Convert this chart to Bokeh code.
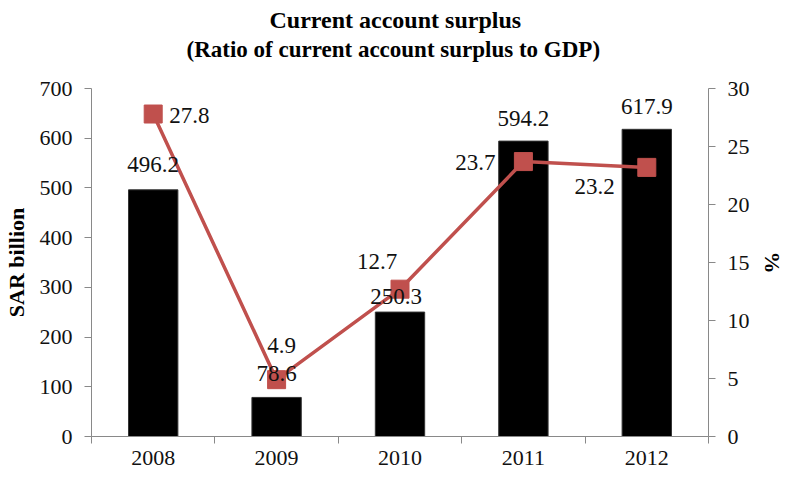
import math
from bokeh.plotting import figure
from bokeh.models import (ColumnDataSource, LinearAxis, Range1d, FixedTicker, Title)
from bokeh.embed import file_html
from bokeh.resources import INLINE

# ---- data ----
years = [2008, 2009, 2010, 2011, 2012]
year_labels = ["2008", "2009", "2010", "2011", "2012"]
surplus_sar_bn = [496.2, 78.6, 250.3, 594.2, 617.9]
surplus_pct_gdp = [27.8, 4.9, 12.7, 23.7, 23.2]
left_ticks = [0, 100, 200, 300, 400, 500, 600, 700]
right_ticks = [0, 5, 10, 15, 20, 25, 30]

# ---- styles ----
FONT = "Liberation Serif"
RED = "#C0504D"
AXIS_GREY = "#898989"
TICK_LBL = "22px"
DATA_LBL = "23px"

bar_lbl_dx = [0, 0, -4, 0, 0]
bar_lbl_dy = [-25, -24, -16, -23, -23]
pct_lbl_align = ["left", "center", "center", "right", "right"]
pct_lbl_dx = [16, 5, -23, -28, -32]
pct_lbl_dy = [1, -34, -28, 1, 19]

p = figure(width=787, height=477, output_backend="svg", toolbar_location=None,
           x_range=Range1d(2007.5, 2012.5), y_range=Range1d(0, 700),
           min_border_left=91, min_border_right=74, min_border_top=88,
           min_border_bottom=41)
p.extra_y_ranges = {"pct": Range1d(0, 30)}
p.outline_line_color = None
p.xgrid.visible = False
p.ygrid.visible = False
p.background_fill_color = "white"
p.border_fill_color = "white"

bars = ColumnDataSource(dict(x=years, top=surplus_sar_bn,
                             lbl=[f"{v:.1f}" for v in surplus_sar_bn],
                             dx=bar_lbl_dx, dy=bar_lbl_dy))
pct = ColumnDataSource(dict(x=years, y=surplus_pct_gdp,
                            lbl=[f"{v:.1f}" for v in surplus_pct_gdp],
                            dx=pct_lbl_dx, dy=pct_lbl_dy, al=pct_lbl_align))

p.vbar(x="x", top="top", width=0.4, source=bars, fill_color="black", line_color="#333333", line_width=1)
p.line(x="x", y="y", source=pct, y_range_name="pct", line_color=RED, line_width=3.5)
p.scatter(x="x", y="y", source=pct, y_range_name="pct", marker="square", size=18,
          fill_color=RED, line_color=RED)

p.text(x="x", y="top", text="lbl", source=bars, x_offset="dx", y_offset="dy",
       text_align="center", text_baseline="middle", text_font="Liberation Serif",
       text_font_size=DATA_LBL, text_color="#111111")
p.text(x="x", y="y", text="lbl", source=pct, y_range_name="pct", x_offset="dx", y_offset="dy",
       text_align="al", text_baseline="middle", text_font="Liberation Serif",
       text_font_size=DATA_LBL, text_color="#111111")

# axes
def style_axis(ax):
    ax.axis_line_color = AXIS_GREY
    ax.major_tick_line_color = AXIS_GREY
    ax.minor_tick_line_color = AXIS_GREY
    ax.major_label_text_font = FONT
    ax.major_label_text_font_size = TICK_LBL
    ax.major_label_text_color = "#111111"
    ax.major_tick_in = 0
    ax.major_tick_out = 7
    ax.minor_tick_in = 0
    ax.axis_label_text_font = FONT
    ax.axis_label_text_font_style = "bold"
    ax.axis_label_text_font_size = "22px"
    ax.axis_label_text_color = "#000000"

xa = p.xaxis[0]
xa.ticker = FixedTicker(ticks=years, minor_ticks=[2007.5, 2008.5, 2009.5, 2010.5, 2011.5, 2012.5])
xa.major_label_overrides = {y: s for y, s in zip(years, year_labels)}
style_axis(xa)
xa.major_tick_line_color = None
xa.minor_tick_out = 7
xa.major_label_standoff = 7

ya = p.yaxis[0]
ya.ticker = FixedTicker(ticks=left_ticks)
style_axis(ya)
ya.major_label_standoff = 12
ya.minor_tick_line_color = None
ya.axis_label = "SAR billion"
ya.axis_label_standoff = 8

ra = LinearAxis(y_range_name="pct", ticker=FixedTicker(ticks=right_ticks))
style_axis(ra)
ra.major_label_standoff = 12
ra.minor_tick_line_color = None
ra.axis_label = "%"
ra.axis_label_standoff = 7
p.add_layout(ra, "right")

# invisible spacer between plot area and titles
spacer = LinearAxis(ticker=FixedTicker(ticks=[2010], minor_ticks=[]),
                    major_tick_out=27, major_tick_in=0,
                    minor_tick_out=0, minor_tick_in=0,
                    axis_line_color=None, major_tick_line_color=None,
                    minor_tick_line_color=None, major_label_standoff=0,
                    major_label_overrides={2010: ""},
                    major_label_text_font_size="1px")
p.add_layout(spacer, "above")

# titles
p.add_layout(Title(text="(Ratio of current  account surplus  to GDP)", text_font=FONT,
                   text_font_style="bold", text_font_size="23px", align="left",
                   offset=95, standoff=0, text_color="#000000"), "above")
p.add_layout(Title(text="Current account surplus", text_font=FONT,
                   text_font_style="bold", text_font_size="24px", align="left",
                   offset=178, standoff=4, text_color="#000000"), "above")

open("out.html", "w").write(file_html(p, INLINE))
